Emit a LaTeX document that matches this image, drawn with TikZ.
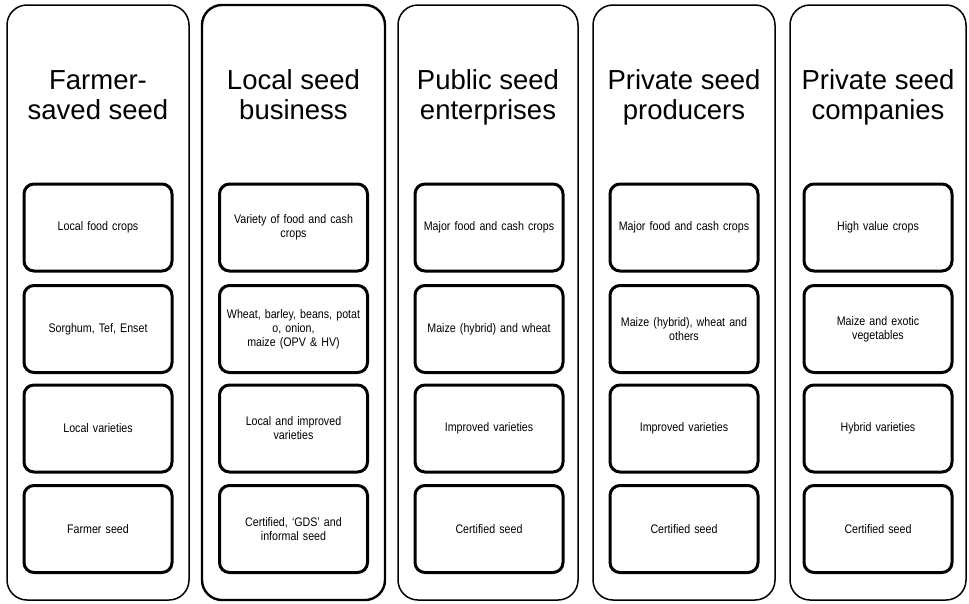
\documentclass[tikz,border=0pt]{standalone}
\usepackage{fontspec}
\setmainfont{Liberation Sans}
\newfontfamily\smallfont[FakeStretch=0.86]{Liberation Sans}
\begin{document}
\begin{tikzpicture}[x=1pt,y=-1pt,
  col/.style={draw=black,line width=1.5pt,rounded corners=20pt},
  colthick/.style={draw=black,line width=2.4pt,rounded corners=20pt},
  item/.style={draw=black,line width=3pt,rounded corners=10pt,minimum width=148pt,minimum height=87pt,
     align=center,text width=140pt,font=\smallfont\fontsize{12.4}{14}\selectfont,inner sep=0pt},
  title/.style={align=center,font=\fontsize{27.5}{30}\selectfont,inner sep=0pt,anchor=base}]
\useasboundingbox (0,0) rectangle (969,603);
\draw[col] (7,5) rectangle (189,600);
\draw[colthick] (202,5) rectangle (385,600);
\draw[col] (398,5) rectangle (578,600);
\draw[col] (593,5) rectangle (775,600);
\draw[col] (790,5) rectangle (966,600);
\node[title] (t1) at (98,119) {Farmer-\\saved seed};
\node[title] (t2) at (293.5,119) {Local seed\\business};
\node[title] (t3) at (488,119) {Public seed\\enterprises};
\node[title] (t4) at (684,119) {Private seed\\producers};
\node[title] (t5) at (878,119) {Private seed\\companies};
\node[item] (a1) at (98,227.5) {Local food crops};
\node[item] (b1) at (98,329) {Sorghum, Tef, Enset};
\node[item] (c1) at (98,428.5) {Local varieties};
\node[item] (d1) at (98,529) {Farmer seed};
\node[item] (a2) at (293.5,227.5) {Variety of food and cash\\crops};
\node[item] (b2) at (293.5,329) {Wheat, barley, beans, potat\\o, onion,\\maize (OPV \& HV)};
\node[item] (c2) at (293.5,428.5) {Local and improved\\varieties};
\node[item] (d2) at (293.5,529) {Certified, ‘GDS’ and\\informal seed};
\node[item] (a3) at (489,227.5) {Major food and cash crops};
\node[item] (b3) at (489,329) {Maize (hybrid) and wheat};
\node[item] (c3) at (489,428.5) {Improved varieties};
\node[item] (d3) at (489,529) {Certified seed};
\node[item] (a4) at (684,227.5) {Major food and cash crops};
\node[item] (b4) at (684,329) {Maize (hybrid), wheat and\\others};
\node[item] (c4) at (684,428.5) {Improved varieties};
\node[item] (d4) at (684,529) {Certified seed};
\node[item] (a5) at (878,227.5) {High value crops};
\node[item] (b5) at (878,329) {Maize and exotic\\vegetables};
\node[item] (c5) at (878,428.5) {Hybrid varieties};
\node[item] (d5) at (878,529) {Certified seed};
\end{tikzpicture}
\end{document}
